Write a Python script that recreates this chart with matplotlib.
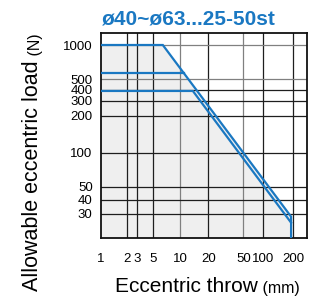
import numpy as np
import matplotlib
matplotlib.use("Agg")
from matplotlib import pyplot as plt
from matplotlib import font_manager

# chart data
title = "ø40~ø63...25-50st"
x_ticks = [1, 2, 3, 5, 10, 20, 50, 100, 200]
y_ticks = [30, 40, 50, 100, 200, 300, 400, 500, 1000]
outer_x = [1, 6.4, 190, 190]
outer_y = [1000, 1000, 28.4, 18.3]
mid_x = [1, 11.0]
mid_y = [560, 560]
inner_x = [1, 13.7, 190]
inner_y = [385, 385, 25.1]
x_lim = (1, 274)
y_lim = (18.3, 1277)

# the printed chart uses an uneven log-like spacing; scale anchors (pixels)
XS_VAL = [1, 2, 3, 5, 10, 20, 50, 100, 200, 274]
XS_POS = [0, 26.3, 36.3, 52.3, 79, 107.3, 142.3, 162.3, 192.3, 206]
YS_VAL = [18.3, 30, 40, 50, 100, 200, 300, 400, 500, 1000, 1277]
YS_POS = [0, 24, 38, 51.5, 85.5, 122, 137.5, 148.5, 159, 193, 205]


def make_scale(vals, pos):
    lv = np.log10(vals)

    def fwd(v):
        v = np.clip(np.asarray(v, dtype=float), 1e-6, None)
        return np.interp(np.log10(v), lv, pos)

    def inv(p):
        return 10 ** np.interp(np.asarray(p, dtype=float), pos, lv)

    return fwd, inv


names = {f.name for f in font_manager.fontManager.ttflist}
narrow = "Liberation Sans Narrow" if "Liberation Sans Narrow" in names else "Liberation Sans"
plt.rcParams["font.family"] = ["Liberation Sans", "DejaVu Sans"]

BLUE = "#1a78c2"

fig = plt.figure(figsize=(3.23, 3.0), dpi=100)
ax = fig.add_axes([101 / 323, 62 / 300, 206 / 323, 205 / 300])
ax.set_xscale("function", functions=make_scale(XS_VAL, XS_POS))
ax.set_yscale("function", functions=make_scale(YS_VAL, YS_POS))
ax.set_xlim(*x_lim)
ax.set_ylim(*y_lim)

ax.fill_between(outer_x[:3], outer_y[:3], y_lim[0], color="#efefef", lw=0, zorder=0)

gray_x = {10, 50}
gray_y = {500, 1000}
for v in x_ticks[1:]:
    ax.axvline(v, color="#808080" if v in gray_x else "#1e1e1e", lw=0.9, zorder=1)
for v in y_ticks:
    ax.axhline(v, color="#808080" if v in gray_y else "#1e1e1e", lw=0.9, zorder=1)

ax.plot(outer_x, outer_y, color=BLUE, lw=1.6, zorder=3, solid_joinstyle="miter")
ax.plot(mid_x, mid_y, color=BLUE, lw=1.6, zorder=3)
ax.plot(inner_x, inner_y, color=BLUE, lw=1.6, zorder=3, solid_joinstyle="miter")

ax.set_xticks(x_ticks)
ax.set_xticklabels([str(v) for v in x_ticks], fontsize=9.5, family=narrow)
ax.set_yticks(y_ticks)
ax.set_yticklabels([str(v) for v in y_ticks], fontsize=9.5)
ax.xaxis.set_minor_locator(matplotlib.ticker.NullLocator())
ax.yaxis.set_minor_locator(matplotlib.ticker.NullLocator())
ax.tick_params(axis="x", length=0, pad=11)
ax.tick_params(axis="y", length=0, pad=6)
for s in ax.spines.values():
    s.set_linewidth(1.3)
    s.set_color("#111111")

fig.text(189 / 323, 1 - 19 / 300, title, ha="center", va="center",
         fontsize=15, fontweight="bold", color=BLUE)

xl = fig.text(115 / 323, 1 - 292 / 300, "Eccentric throw", fontsize=15, ha="left", va="baseline")
ax.annotate(" (mm)", xy=(1, 0), xycoords=xl, fontsize=11.5, ha="left", va="bottom")
yl = fig.text(43 / 323, 1 - 291 / 300, "Allowable eccentric load", fontsize=15.5,
              rotation=90, ha="right", va="bottom")
ax.annotate(" (N)", xy=(1, 1), xycoords=yl, fontsize=11.5, rotation=90, ha="right", va="bottom")

fig.savefig("out.png", dpi=100)
